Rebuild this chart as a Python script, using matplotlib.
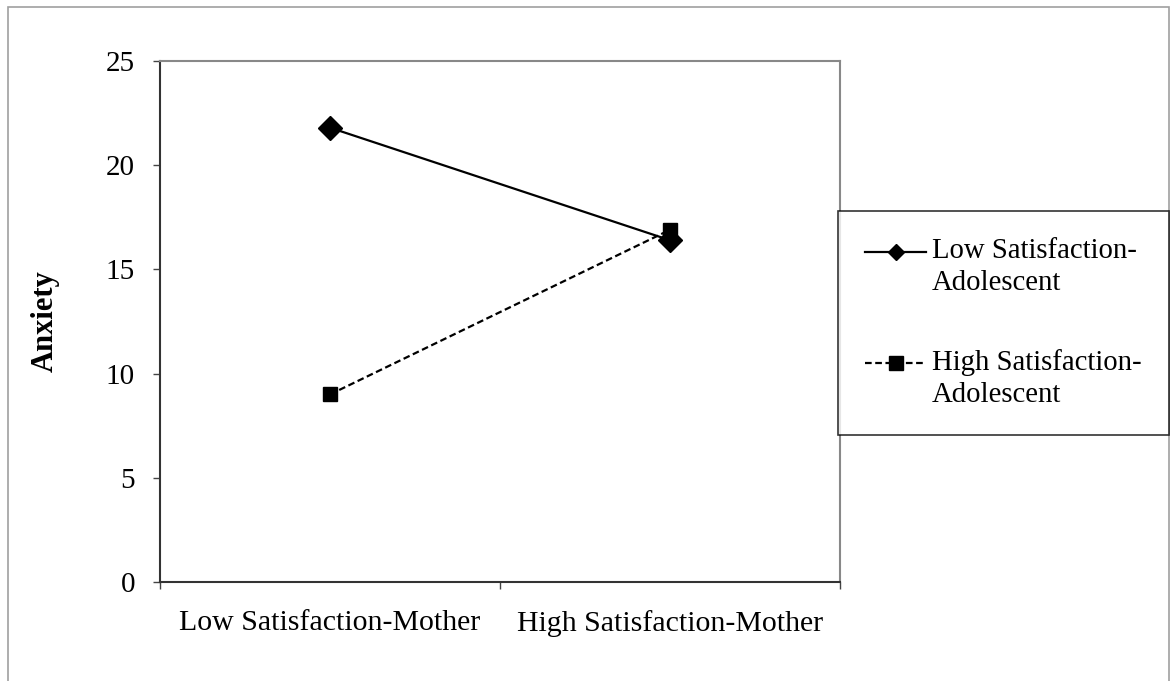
import numpy as np
import matplotlib.pyplot as plt
from matplotlib.lines import Line2D
from matplotlib.patches import Rectangle

# data
categories = ['Low Satisfaction-Mother', 'High Satisfaction-Mother']
low_adolescent = [21.8, 16.4]
high_adolescent = [9.0, 16.9]
series_labels = ['Low Satisfaction-\nAdolescent', 'High Satisfaction-\nAdolescent']
y_ticks = [0, 5, 10, 15, 20, 25]

plt.rcParams['font.family'] = ['Liberation Serif', 'DejaVu Serif']

fig = plt.figure(figsize=(11.71, 6.81), dpi=100)
ax = fig.add_axes([160 / 1171, 1 - 582 / 681, 680 / 1171, 521 / 681])

# outer chart border
fig.patches.append(Rectangle((8 / 1171, -0.02), 1161 / 1171, 1.02 - 7 / 681,
                             transform=fig.transFigure, fill=False,
                             edgecolor='#a0a0a0', linewidth=1.2))

x = [0.5, 1.5]
ax.plot(x, low_adolescent, color='black', linestyle='-', linewidth=1.6,
        marker='D', markersize=12, zorder=3)
ax.plot(x, high_adolescent, color='black', linestyle=(0, (3, 1.6)), linewidth=1.6,
        marker='s', markersize=10, zorder=3)

ax.set_xlim(0, 2)
ax.set_ylim(0, 25)
ax.set_yticks(y_ticks)
ax.set_xticks([0, 1, 2])
ax.set_xticklabels([])
ax.set_xticks(x, minor=True)
ax.set_xticklabels(categories, minor=True, fontsize=21.5)
ax.tick_params(axis='x', which='minor', length=0, pad=20)
ax.tick_params(axis='x', which='major', length=5, width=1, direction='out', color='#444444')
ax.tick_params(axis='y', length=5, width=1, direction='out', labelsize=21, pad=13, color='#444444')

for side in ['left', 'bottom']:
    ax.spines[side].set_color('#333333')
    ax.spines[side].set_linewidth(1.5)
for side in ['top', 'right']:
    ax.spines[side].set_color('#888888')
    ax.spines[side].set_linewidth(1.5)

ax.set_ylabel('Anxiety', fontsize=22, fontweight='bold', labelpad=33)

handles = [
    Line2D([], [], color='black', linestyle='-', linewidth=1.6, marker='D', markersize=8),
    Line2D([], [], color='black', linestyle=(0, (3, 1.6)), linewidth=1.6, marker='s', markersize=10),
]
leg = fig.legend(handles, series_labels, loc='upper left',
                 bbox_to_anchor=(838 / 1171, 1 - 211 / 681),
                 fontsize=20.7, frameon=True, fancybox=False, edgecolor='black',
                 handlelength=2.1, handletextpad=0.22, labelspacing=1.85,
                 borderpad=0.95, borderaxespad=0)
leg.get_frame().set_linewidth(1.2)
for t in leg.get_texts():
    t.set_linespacing(1.28)
# line the handle up with the first text line, as in the reference
for h in leg.legend_handles:
    h.set_ydata(np.asarray(h.get_ydata()) + 11)

fig.savefig('out.png', dpi=100)
